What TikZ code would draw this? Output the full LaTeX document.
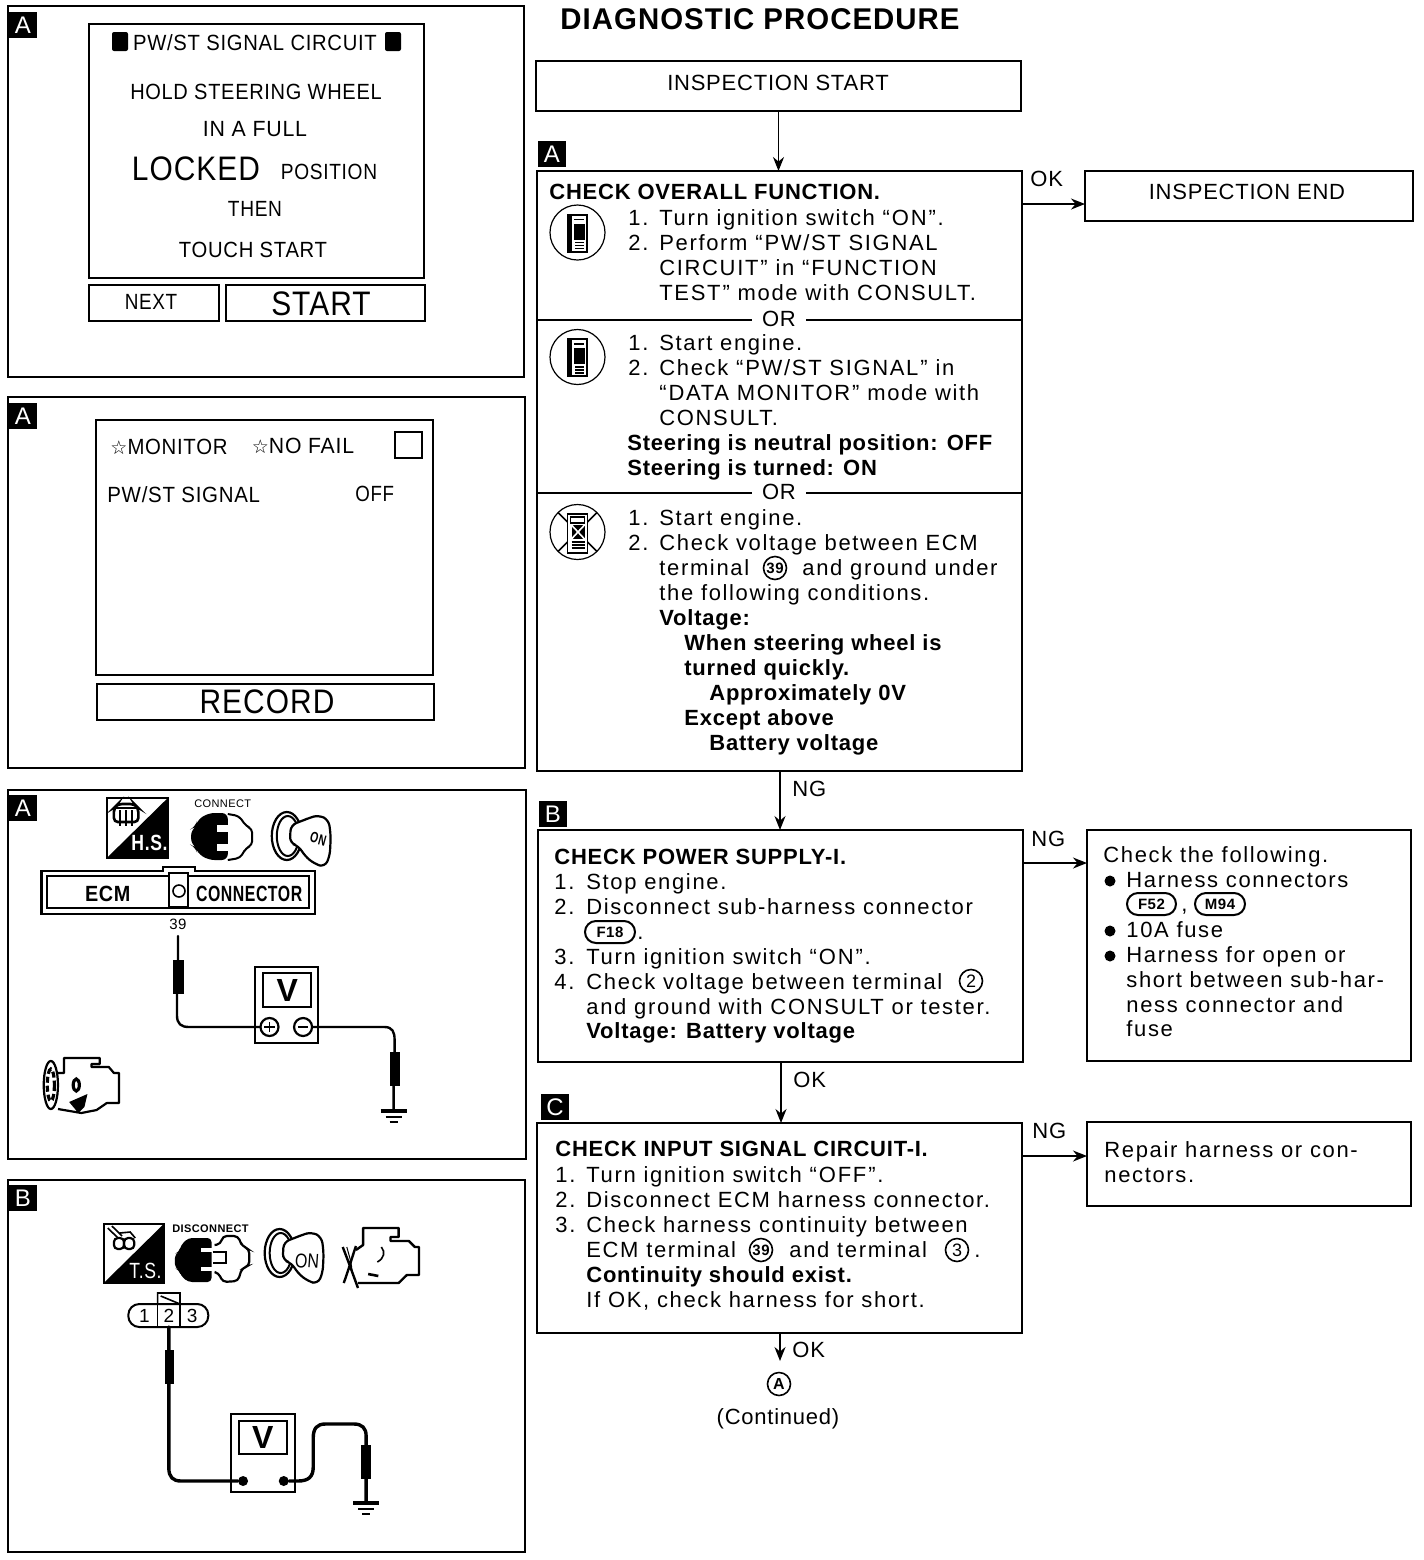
\documentclass[tikz,border=0pt]{standalone}
\usepackage{fontspec}
\usepackage{graphicx}
\usetikzlibrary{arrows.meta}
\setmainfont{Liberation Sans}
\newfontfamily\bodyf[LetterSpace=7.5]{Liberation Sans}
\newfontfamily\capsf[LetterSpace=3.5]{Liberation Sans}
\newfontfamily\bldf[LetterSpace=3.5]{Liberation Sans Bold}
\newfontfamily\starf{DejaVu Sans}
\newcommand{\fsz}[1]{\fontsize{#1}{#1}\selectfont}
\newcommand{\sx}[2]{\scalebox{#1}[1]{#2}}
\newcommand{\qo}{“\kern1pt}
\newcommand{\qc}{\kern1pt”}
\tikzset{
 fbox/.style={draw,line width=1pt,inner sep=0pt,outer sep=0pt,rectangle},
 tx/.style={anchor=base west,inner sep=0pt,yshift=0.5pt,font=\bodyf\fsz{11}},
 cx/.style={anchor=base,inner sep=0pt,font=\capsf\fsz{11}},
 bx/.style={anchor=base west,inner sep=0pt,yshift=0.5pt,font=\bldf\fsz{11}},
 mid/.style={anchor=center,inner sep=0pt},
 arr/.style={line width=0.8pt,-{Stealth[length=7pt,width=5.5pt]}},
 lab/.style={fill=black,text=white,inner sep=0pt,minimum width=14pt,minimum height=13pt,font=\fsz{12}},
 orl/.style={fill=white,inner xsep=5pt,inner ysep=1pt,anchor=center,font=\capsf\fsz{11}},
 num/.style={circle,draw,line width=0.8pt,inner sep=0pt,minimum size=11.5pt,font=\bldf\fsz{7.5}},
 tag/.style={rounded corners=5.5pt,draw,line width=1pt,inner sep=0pt,minimum height=11pt,font=\bldf\fsz{7.5}},
 bul/.style={circle,fill=black,inner sep=0pt,minimum size=5.5pt},
 wire/.style={line width=1.2pt,line cap=round},
 twire/.style={line width=1.7pt,line cap=round},
 consult/.pic={
   \draw[line width=0.6pt] (0,0) circle[radius=27.5];
   \fill (-11,-19) rectangle (10,20);
   \fill[white] (-6,-17) rectangle (8,-9);
   \fill (-4,-14) rectangle (6,-12.5);
   \fill[white] (-6,-9) rectangle (-4,7);
   \fill[white] (7,-9) rectangle (8,7);
   \fill[white] (-6,7) rectangle (8,18);
   \fill (-3,9) rectangle (6,10.5);
   \fill (-3,12) rectangle (6,13.5);
   \fill (-3,15) rectangle (6,16.5);
 },
 consultx/.pic={
   \draw[line width=0.6pt] (0,0) circle[radius=27.5];
   \draw[line width=0.8pt] (-19.5,-19.5) -- (19.5,19.5) (19.5,-19.5) -- (-19.5,19.5);
   \draw[line width=0.9pt,fill=white] (-10,-18) rectangle (10,21);
   \draw[line width=0.7pt] (-7,-15) rectangle (7,-9);
   \fill (-6,-7) rectangle (7,7);
   \draw[white,line width=0.8pt] (-6,-7) -- (7,7) (7,-7) -- (-6,7);
   \draw[line width=0.7pt] (-6,10) -- (7,10) (-6,13) -- (7,13) (-6,16) -- (7,16);
 },
 keyicon/.pic={
   \draw[line width=1.1pt] (0,0) ellipse[x radius=15,y radius=24];
   \draw[line width=1pt] (1,0) ellipse[x radius=11,y radius=20];
   \draw[line width=1.1pt,fill=white,rounded corners=3pt] (4,-11) -- (15,-15) -- (22,-18) -- (32,-21) -- (42,-16) -- (44,0) -- (43,20) -- (38,31) -- (28,28) -- (18,20) -- (12,10) -- (3,7) -- cycle;
 },
 ground/.pic={
   \draw[line width=1.6pt] (-13,0) -- (13,0);
   \draw[line width=1.3pt] (-8,6) -- (8,6);
   \draw[line width=1.3pt] (-4,11) -- (4,11);
 },
}
\newcommand{\pbox}[6][]{\node[fbox,#1,minimum width={(#5-#3)*0.5pt},minimum height={(#6-#4)*0.5pt}] (#2) at ({(#3+#5)/2},{(#4+#6)/2}) {};}
\begin{document}
\begin{tikzpicture}[x=0.5pt,y=-0.5pt]
\useasboundingbox (0,0) rectangle (1424,1560);
% ---- left panels
\pbox{p1}{8}{6}{524}{377}
\pbox{p2}{8}{397}{525}{768}
\pbox{p3}{8}{790}{526}{1159}
\pbox{p4}{8}{1180}{525}{1552}
\node[lab] (la1) at (23,25) {A};
\node[lab] (la2) at (23,416) {A};
\node[lab] (la3) at (23,808) {A};
\node[lab] (la4) at (23,1198) {B};
% panel 1
\pbox{s1}{89}{24}{424}{278}
\pbox{s1n}{89}{285}{219}{321}
\pbox{s1s}{226}{285}{425}{321}
\fill[rounded corners=1pt] (112,32) rectangle (128,51);
\fill[rounded corners=1pt] (385,32) rectangle (401,51);
\node[cx] (t1a) at (255,50) {\sx{.92}{PW/ST SIGNAL CIRCUIT}};
\node[cx] (t1b) at (256,99) {\sx{.91}{HOLD STEERING WHEEL}};
\node[cx] (t1c) at (255,136) {\sx{.97}{IN A FULL}};
\node[cx,font=\capsf\fsz{17}] (t1d) at (196,180) {\sx{.88}{LOCKED}};
\node[cx] (t1e) at (329,179) {\sx{.87}{POSITION}};
\node[cx] (t1f) at (255,216) {\sx{.87}{THEN}};
\node[cx] (t1g) at (253,257) {\sx{.92}{TOUCH START}};
\node[cx] (t1h) at (151,309) {\sx{.86}{NEXT}};
\node[cx,font=\capsf\fsz{17}] (t1i) at (321,315) {\sx{.88}{START}};
% panel 2
\pbox{s2}{96}{420}{433}{675}
\pbox{s2r}{97}{684}{434}{720}
\pbox{s2c}{395}{432}{422}{458}
\node[cx] (t2a) at (169,454) {{\starf\fsz{9.5}☆}\sx{.925}{MONITOR}};
\node[cx] (t2b) at (303,453) {{\starf\fsz{9.5}☆}\sx{.965}{NO FAIL}};
\node[tx,font=\capsf\fsz{11}] (t2c) at (107,503) {\sx{.93}{PW/ST SIGNAL}};
\node[tx,font=\capsf\fsz{11}] (t2d) at (355,502) {\sx{.85}{OFF}};
\node[cx,font=\capsf\fsz{17}] (t2e) at (267,713) {\sx{.88}{RECORD}};
% panel 3 and 4 art
\begin{scope}[xscale=1.017]
\draw[line width=1.2pt] (105,798) rectangle (165,858);
\fill (165,798) -- (165,858) -- (105,858) -- cycle;
\draw[line width=1.3pt,rounded corners=2pt] (112,808) -- (116,804) -- (132,804) -- (136,808) -- (136,822) -- (112,822) -- cycle;
\draw[line width=0.9pt] (112,808) -- (136,808) (118,810) -- (118,826) (124,810) -- (124,826) (130,810) -- (130,826);
\node[mid,text=white,font=\bldf\fsz{11}] (hs) at (147,843) {\sx{.8}{H.S.}};
\node[mid,font=\capsf\fsz{5.5}] (cn) at (219,804) {CONNECT};
\fill[rounded corners=3pt] (224,813) -- (205,813) -- (194,820) -- (192,827) -- (188,829) -- (188,845) -- (192,847) -- (194,853) -- (205,860) -- (224,860) -- cycle;
\fill[white] (213,825) rectangle (225,832);
\fill[white] (213,844) rectangle (225,851);
\draw[line width=1pt,rounded corners=2pt] (224,814) -- (235,816) -- (242,826) -- (248,829) -- (248,845) -- (242,848) -- (236,858) -- (224,860);
\pic at (282,836) {keyicon};
\node[mid,rotate=-15,font=\bldf\fsz{7.5}] (on1) at (313,839) {\sx{.7}{ON}};
% ECM connector
\draw[line width=1.2pt] (41,871) -- (160,871) -- (160,867) -- (192,867) -- (192,871) -- (310,871) -- (310,914) -- (41,914) -- cycle;
\draw[line width=1.2pt] (46,876) rectangle (304,908);
\draw[line width=0.8pt,fill=white] (166,873) rectangle (185,907);
\node[circle,draw,line width=0.8pt,inner sep=0pt,minimum size=6pt] (pin) at (176,891) {};
\node[mid,font=\bldf\fsz{11}] (ecm) at (106,894) {\sx{.9}{ECM}};
\node[mid,font=\bldf\fsz{11}] (conn) at (245,894) {\sx{.72}{CONNECTOR}};
\node[mid,font=\capsf\fsz{7.5}] (n39) at (175,924) {39};
% meter A
\node[fbox,minimum width=31.5pt,minimum height=38pt] (ma) at (281.5,1005) {};
\node[fbox,minimum width=24pt,minimum height=17pt] (mas) at (282.5,990) {\bfseries\fsz{16}V};
\node[circle,draw,line width=1.1pt,inner sep=0pt,minimum size=9pt] (mp) at (265,1027) {};
\node[circle,draw,line width=1.1pt,inner sep=0pt,minimum size=9pt] (mm) at (298,1027) {};
\draw[line width=0.9pt] (260,1027) -- (270,1027) (265,1022) -- (265,1032) (293,1027) -- (303,1027);
\coordinate (pa1) at (175,936);
\coordinate (ga) at (387,1111);
\draw[wire] (pa1) -- (175,965) (174,990) -- (174,1015) .. controls (174,1024) and (178,1027) .. (186,1027) -- (mp.west);
\fill (170,960) rectangle (181,994);
\draw[wire] (mm.east) -- (378,1027) .. controls (386,1027) and (388,1032) .. (388,1040) -- (388,1055) (387,1085) -- (ga);
\fill (383,1052) rectangle (393,1086);
\pic at (ga) {ground};
% engine A
\draw[line width=1.1pt,line join=round] (57,1073) -- (63,1073) -- (63,1058) -- (98,1058) -- (98,1064) -- (90,1064) -- (90,1067) -- (107,1067) -- (112,1073) -- (117,1073) -- (117,1103) -- (105,1103) -- (95,1110) -- (80,1113) -- (57,1109);
\draw[line width=1.1pt] (50,1085) ellipse[x radius=7,y radius=24];
\draw[line width=1.6pt,dash pattern=on 3pt off 1.5pt] (50,1085) ellipse[x radius=3.5,y radius=16];
\draw[line width=1.6pt] (75,1085) ellipse[x radius=3,y radius=6];
\fill (68,1102) -- (86,1094) -- (83,1107) -- (77,1113) -- cycle;
% panel 4 icons
\draw[line width=1.2pt] (102,1224) rectangle (161,1283);
\fill (161,1224) -- (161,1283) -- (102,1283) -- cycle;
\draw[line width=1.1pt,rounded corners=2pt] (112,1238) rectangle (122,1249);
\draw[line width=1.1pt,rounded corners=2pt] (122,1238) rectangle (132,1249);
\draw[line width=0.8pt] (106,1228) -- (116,1238) (110,1226) -- (120,1236) (118,1233) -- (128,1232) -- (133,1238);
\node[mid,text=white,font=\capsf\fsz{11}] (ts) at (143,1271) {\sx{.8}{T.S.}};
\node[mid,font=\bldf\fsz{5.5}] (dc) at (207,1229) {DISCONNECT};
\fill[rounded corners=2pt] (208,1238) -- (185,1238) -- (178,1245) -- (176,1252) -- (172,1254) -- (172,1268) -- (176,1270) -- (178,1276) -- (185,1282) -- (208,1282) -- cycle;
\fill[white] (198,1248) rectangle (208,1252);
\fill[white] (198,1267) rectangle (208,1271);
\draw[line width=1.1pt,rounded corners=2pt] (211,1245) -- (217,1244) -- (219,1236) -- (234,1236) -- (238,1246) -- (245,1249) -- (245,1266) -- (238,1268) -- (234,1281) -- (219,1282) -- (215,1273) -- (211,1272);
\draw[line width=1.1pt] (209,1252) -- (222,1252) -- (222,1263) -- (209,1263);
\pic at (275,1253) {keyicon};
\node[mid,rotate=-4,font=\fsz{10}] (on2) at (302,1261) {\sx{.8}{ON}};
\draw[line width=1.2pt,line join=round] (350,1250) -- (357,1245) -- (357,1228) -- (392,1228) -- (392,1237) -- (384,1237) -- (384,1241) -- (402,1241) -- (408,1247) -- (412,1247) -- (412,1275) -- (400,1275) -- (392,1283) -- (352,1283);
\draw[line width=1.2pt] (337,1247) .. controls (342,1260) and (347,1274) .. (352,1288) (350,1246) .. controls (346,1258) and (342,1272) .. (338,1283);
\draw[line width=0.5pt] (341,1247) .. controls (344,1258) and (346,1264) .. (346,1272);
\draw[line width=0.8pt] (375,1247) .. controls (379,1252) and (378,1258) .. (371,1262);
\draw[line width=1.3pt] (362,1274) -- (372,1276);
% 123 connector
\node[fbox,rounded corners=5.5pt,minimum width=40pt,minimum height=11.5pt] (pill) at (165.5,1315.5) {};
\draw[line width=0.8pt] (155,1304) -- (155,1327) (177,1304) -- (177,1327);
\draw[line width=0.8pt] (155,1304) -- (155,1293) -- (177,1293) -- (177,1304) (158,1296) -- (177,1304);
\node[mid,font=\capsf\fsz{9.5}] (c1) at (142,1316) {1};
\node[mid,font=\capsf\fsz{9.5}] (c2) at (166,1316) {2};
\node[mid,font=\capsf\fsz{9.5}] (c3) at (189,1316) {3};
% meter B
\node[fbox,minimum width=32pt,minimum height=39pt] (mb) at (259,1452.5) {};
\node[fbox,minimum width=24pt,minimum height=16.5pt] (mbs) at (258.5,1437.5) {\bfseries\fsz{16}V};
\node[circle,fill=black,inner sep=0pt,minimum size=5pt] (d1) at (239,1481) {};
\node[circle,fill=black,inner sep=0pt,minimum size=5pt] (d2) at (279,1481) {};
\coordinate (gb) at (360,1503);
\draw[twire] (166,1327) -- (166,1355) -- (166,1468) .. controls (166,1477) and (170,1481) .. (178,1481) -- (d1);
\fill (162,1350) rectangle (171,1384);
\draw[twire] (d2) -- (293,1481) .. controls (303,1481) and (308,1477) .. (308,1467) -- (308,1438) .. controls (308,1428) and (312,1424) .. (320,1424) -- (348,1424) .. controls (356,1424) and (360,1428) .. (360,1436) -- (360,1448) (360,1476) -- (gb);
\fill (355,1445) rectangle (365,1479);
\pic at (gb) {ground};
\end{scope}
% ---- flow chart
\node[anchor=base,inner sep=0pt,font=\bldf\fsz{15}] (title) at (760,29) {\sx{.98}{DIAGNOSTIC PROCEDURE}};
\pbox{start}{536}{61}{1021}{111}
\node[cx] (tstart) at (778,90) {INSPECTION START};
\node[lab] (lA) at (552,154) {A};
\pbox{boxA}{537}{171}{1022}{771}
\pbox{endb}{1085}{171}{1413}{221}
\node[cx,yshift=0.5pt] (tend) at (1247,200) {INSPECTION END};
\node[lab] (lB) at (553,814) {B};
\pbox{boxB}{538}{830}{1023}{1062}
\pbox{rB}{1087}{830}{1411}{1061}
\node[lab] (lC) at (555,1107) {C};
\pbox{boxC}{537}{1123}{1022}{1333}
\pbox{rC}{1087}{1122}{1411}{1206}
\draw[line width=1pt] (boxA.west |- 0,320) -- (boxA.east |- 0,320);
\draw[line width=1pt] (boxA.west |- 0,493) -- (boxA.east |- 0,493);
\node[orl] (or1) at (779,319) {OR};
\node[orl] (or2) at (779,492) {OR};
% connectors
\draw[arr] (start.south) -- (start.south |- boxA.north);
\coordinate (ca) at (1022,204);
\draw[arr] (ca) -- (endb.west |- ca);
\coordinate (ab) at (780,771);
\draw[arr] (ab) -- (ab |- boxB.north);
\coordinate (cb) at (1023,863);
\draw[arr] (cb) -- (rB.west |- cb);
\coordinate (bc) at (781,1062);
\draw[arr] (bc) -- (bc |- boxC.north);
\coordinate (cc) at (1022,1156);
\draw[arr] (cc) -- (rC.west |- cc);
\node[circle,draw,line width=0.8pt,inner sep=0pt,minimum size=11.5pt,font=\bldf\fsz{8}] (contA) at (779,1384) {A};
\coordinate (cd) at (780,1333);
\coordinate (ce) at (780,1361);
\draw[arr] (cd) -- (ce);
\node[tx,font=\capsf\fsz{11}] (l1) at (1030,187) {OK};
\node[tx,font=\capsf\fsz{11}] (l2) at (792,797) {NG};
\node[tx,font=\capsf\fsz{11}] (l3) at (1031,847) {NG};
\node[tx,font=\capsf\fsz{11}] (l4) at (793,1088) {OK};
\node[tx,font=\capsf\fsz{11}] (l5) at (1032,1139) {NG};
\node[tx,font=\capsf\fsz{11}] (l6) at (792,1358) {OK};
\node[cx] (cont) at (778,1424) {(Continued)};
% box A text
\node[bx] (a0) at (549,200) {CHECK OVERALL FUNCTION.};
\pic at (577.5,232.5) {consult};
\node[tx] (a1n) at (628,226) {1.};
\node[tx] (a1) at (659,226) {Turn ignition switch \qo ON\qc.};
\node[tx] (a2n) at (628,251) {2.};
\node[tx] (a2) at (659,251) {Perform \qo PW/ST SIGNAL};
\node[tx] (a3) at (659,276) {CIRCUIT\qc\ in \qo FUNCTION};
\node[tx] (a4) at (659,301) {TEST\qc\ mode with CONSULT.};
\pic at (577.5,357) {consult};
\node[tx] (b1n) at (628,351) {1.};
\node[tx] (b1) at (659,351) {Start engine.};
\node[tx] (b2n) at (628,376) {2.};
\node[tx] (b2) at (659,376) {Check \qo PW/ST SIGNAL\qc\ in};
\node[tx] (b3) at (659,401) {\qo DATA MONITOR\qc\ mode with};
\node[tx] (b4) at (659,426) {CONSULT.};
\node[bx] (b5) at (627,451) {Steering is neutral position: OFF};
\node[bx] (b6) at (627,476) {Steering is turned: ON};
\pic at (577.5,532) {consultx};
\node[tx] (e1n) at (628,526) {1.};
\node[tx] (e1) at (659,526) {Start engine.};
\node[tx] (e2n) at (628,551) {2.};
\node[tx] (e2) at (659,551) {Check voltage between ECM};
\node[tx] (e3) at (659,576) {terminal};
\node[num] (e3c) at (775,568) {39};
\node[tx] (e3b) at (802,576) {and ground under};
\node[tx] (e4) at (659,601) {the following conditions.};
\node[bx] (e5) at (659,626) {Voltage:};
\node[bx] (e6) at (684,651) {When steering wheel is};
\node[bx] (e7) at (684,676) {turned quickly.};
\node[bx] (e8) at (709,701) {Approximately 0V};
\node[bx] (e9) at (684,726) {Except above};
\node[bx] (e10) at (709,751) {Battery voltage};
% box B
\node[bx] (f0) at (554,865) {CHECK POWER SUPPLY-I.};
\node[tx] (f1n) at (554,890) {1.};
\node[tx] (f1) at (586,890) {Stop engine.};
\node[tx] (f2n) at (554,915) {2.};
\node[tx] (f2) at (586,915) {Disconnect sub-harness connector};
\node[tag,minimum width=25pt] (f18) at (610,932) {F18};
\node[tx] (f2b) at (637,940) {.};
\node[tx] (f3n) at (554,965) {3.};
\node[tx] (f3) at (586,965) {Turn ignition switch \qo ON\qc.};
\node[tx] (f4n) at (554,990) {4.};
\node[tx] (f4) at (586,990) {Check voltage between terminal};
\node[num,font=\capsf\fsz{9}] (f4c) at (971,981) {2};
\node[tx] (f5) at (586,1015) {and ground with CONSULT or tester.};
\node[bx] (f6) at (586,1039) {Voltage: Battery voltage};
% right B
\node[tx] (g0) at (1103,863) {Check the following.};
\node[bul] (gb1) at (1110,881) {};
\node[tx] (g1) at (1126,888) {Harness connectors};
\node[tag,minimum width=24.5pt] (f52) at (1151.5,904) {F52};
\node[tx] (g1b) at (1181,912) {,};
\node[tag,minimum width=25pt] (m94) at (1220,904) {M94};
\node[bul] (gb2) at (1110,931) {};
\node[tx] (g2) at (1126,938) {10A fuse};
\node[bul] (gb3) at (1110,956) {};
\node[tx] (g3) at (1126,963) {Harness for open or};
\node[tx] (g4) at (1126,988) {short between sub-har-};
\node[tx] (g5) at (1126,1013) {ness connector and};
\node[tx] (g6) at (1126,1037) {fuse};
% box C
\node[bx] (h0) at (555,1157) {CHECK INPUT SIGNAL CIRCUIT-I.};
\node[tx,yshift=-0.5pt] (h1n) at (555,1182) {1.};
\node[tx,yshift=-0.5pt] (h1) at (586,1182) {Turn ignition switch \qo OFF\qc.};
\node[tx,yshift=-0.5pt] (h2n) at (555,1207) {2.};
\node[tx,yshift=-0.5pt] (h2) at (586,1207) {Disconnect ECM harness connector.};
\node[tx,yshift=-0.5pt] (h3n) at (555,1232) {3.};
\node[tx,yshift=-0.5pt] (h3) at (586,1232) {Check harness continuity between};
\node[tx,yshift=-0.5pt] (h4) at (586,1257) {ECM terminal};
\node[num] (h4c) at (761,1250) {39};
\node[tx,yshift=-0.5pt] (h4b) at (789,1257) {and terminal};
\node[num,font=\capsf\fsz{9}] (h4d) at (957,1250) {3};
\node[tx,yshift=-0.5pt] (h4e) at (974,1257) {.};
\node[bx,yshift=-0.5pt] (h5) at (586,1282) {Continuity should exist.};
\node[tx,yshift=-0.5pt] (h6) at (586,1307) {If OK, check harness for short.};
% right C
\node[tx] (i1) at (1104,1158) {Repair harness or con-};
\node[tx] (i2) at (1104,1183) {nectors.};
\end{tikzpicture}
\end{document}
